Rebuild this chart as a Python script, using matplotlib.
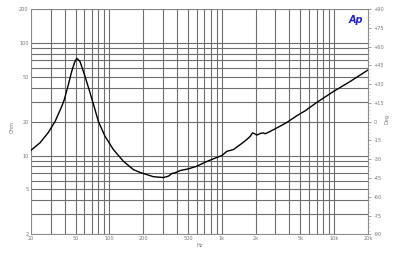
import numpy as np
import matplotlib
matplotlib.use("Agg")
import matplotlib.pyplot as plt
from matplotlib.ticker import FixedLocator, NullFormatter, NullLocator

# impedance curve
freq = [20, 24.2, 28.6, 32.9, 37.7, 39.7, 43, 46.2, 49, 51.3, 54.8, 60.8, 67.3, 74.6,
        79.8, 91.6, 108.6, 133.3, 163.6, 187.7, 246.5, 302.7, 335, 359.6, 384.6,
        426.5, 505, 600, 711, 843, 1002, 1110, 1271, 1459, 1673, 1790, 1876, 1945,
        2055, 2198, 2350, 2435, 2698, 3097, 3801, 4666, 5533, 7029, 9884, 13908, 20000]
ohm = [11.1, 13.0, 16.0, 20.1, 27.3, 31.3, 42, 55.7, 67, 73, 68.4, 50.3, 36.1, 25.5,
       20.1, 14.8, 11.3, 8.9, 7.5, 7.08, 6.49, 6.38, 6.56, 6.93, 7.03,
       7.36, 7.62, 8.04, 8.72, 9.36, 10.0, 10.9, 11.3, 12.5, 13.9, 14.8, 15.9, 15.7,
       15.2, 15.7, 15.9, 15.6, 16.4, 17.6, 19.7, 22.6, 25.0, 29.7, 37.1, 45.5, 57.5]

x_ticks = [20, 50, 100, 200, 500, 1000, 2000, 5000, 10000, 20000]
x_labels = ["20", "50", "100", "200", "500", "1k", "2k", "5k", "10k", "20k"]
y_ticks = [2, 5, 10, 20, 50, 100, 200]
y_labels = ["2", "5", "10", "20", "50", "100", "200"]
deg_ticks = list(range(-90, 91, 15))
deg_labels = [("+%d" % d if d > 0 else str(d)) for d in deg_ticks]

grid_x = [f * 10 ** e for e in range(1, 5) for f in range(1, 10) if 20 <= f * 10 ** e <= 20000]
grid_y = [f * 10 ** e for e in range(0, 3) for f in range(1, 10) if 2 <= f * 10 ** e <= 200]

tick_col = "#777777"
fs = 3.6

fig = plt.figure(figsize=(4.0, 2.54), dpi=100)
ax = fig.add_axes([0.077, 0.0776, 0.843, 0.887])
ax.set_xscale("log")
ax.set_yscale("log")
ax.set_xlim(20, 20000)
ax.set_ylim(2, 200)

for g in grid_x:
    ax.axvline(g, color="#6e6e6e", lw=0.8, zorder=1)
for g in grid_y:
    ax.axhline(g, color="#6e6e6e", lw=0.8, zorder=1)

ax.plot(freq, ohm, color="black", lw=1.0, zorder=3)

ax.xaxis.set_major_locator(FixedLocator(x_ticks))
ax.set_xticklabels(x_labels)
ax.xaxis.set_minor_locator(NullLocator())
ax.yaxis.set_major_locator(FixedLocator(y_ticks))
ax.set_yticklabels(y_labels)
ax.yaxis.set_minor_locator(NullLocator())
ax.tick_params(axis="both", labelsize=fs, colors=tick_col, length=2, width=0.5, pad=1.5)
ax.tick_params(axis="y", length=0)
ax.tick_params(axis="x", length=0)
for s in ax.spines.values():
    s.set_color("#888888")
    s.set_linewidth(0.7)

ax2 = ax.twinx()
ax2.set_ylim(-90, 90)
ax2.yaxis.set_major_locator(FixedLocator(deg_ticks))
ax2.set_yticklabels(deg_labels)
ax2.yaxis.set_minor_locator(FixedLocator(list(range(-90, 91, 3))))
ax2.yaxis.set_minor_formatter(NullFormatter())
ax2.tick_params(axis="y", labelsize=fs, colors=tick_col, length=2.5, width=0.5, pad=1.5)
ax2.tick_params(axis="y", which="minor", length=1.2, width=0.4, colors="#aaaaaa")
for s in ax2.spines.values():
    s.set_visible(False)

fig.text(0.5, 0.035, "Hz", fontsize=fs, color=tick_col, ha="center", va="center")
fig.text(0.03, 0.5, "Ohm", fontsize=fs, color=tick_col, rotation=90, ha="center", va="center")
fig.text(0.968, 0.53, "Deg", fontsize=fs, color=tick_col, rotation=90, ha="center", va="center")
ax.text(0.985, 0.975, "Ap", transform=ax.transAxes, fontsize=7, color="#2020e0",
        fontweight="bold", fontstyle="italic", ha="right", va="top", zorder=5)

fig.savefig("out.png", dpi=100, facecolor="white")
